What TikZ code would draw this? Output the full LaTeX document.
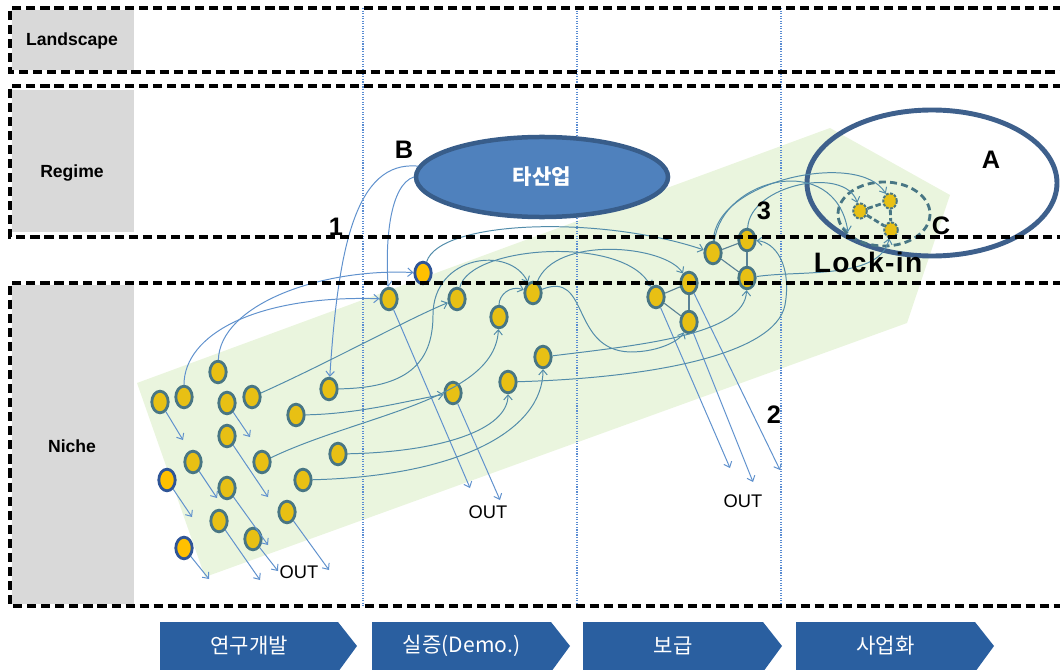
\documentclass[tikz,border=0pt]{standalone}
\usepackage{fontspec}
\setmainfont{Liberation Sans}
\newfontfamily\krfont{Noto Sans CJK KR}
\newfontfamily\wideface[LetterSpace=5]{Liberation Sans}
\usetikzlibrary{shapes.geometric,arrows.meta}
\definecolor{seedfill}{RGB}{232,192,20}
\definecolor{seedrim}{RGB}{72,118,132}
\definecolor{newfill}{RGB}{255,192,0}
\definecolor{newrim}{RGB}{47,85,151}
\definecolor{linkblue}{RGB}{95,145,205}
\definecolor{linkteal}{RGB}{82,140,170}
\definecolor{tiegray}{RGB}{90,130,150}
\definecolor{sprout}{RGB}{234,245,222}
\definecolor{taggray}{RGB}{217,217,217}
\definecolor{industryfill}{RGB}{79,129,189}
\definecolor{industryrim}{RGB}{56,93,138}
\definecolor{lockring}{RGB}{62,96,140}
\definecolor{phaseblue}{RGB}{42,95,160}
\definecolor{stageblue}{RGB}{90,140,210}
\tikzset{
  seed/.style={ellipse, draw=seedrim, fill=seedfill, line width=2pt, minimum width=0.41cm, minimum height=0.54cm, inner sep=0pt},
  newseed/.style={seed, draw=newrim, fill=newfill},
  lockseed/.style={seed, line width=1.4pt, dash pattern=on 2pt off 1pt, minimum width=0.34cm, minimum height=0.38cm},
  link/.style={draw=linkblue, line width=0.7pt, -{Straight Barb[length=3.5pt,width=6pt]}},
  linkteal/.style={link, draw=linkteal},
  tie/.style={draw=tiegray, line width=0.8pt},
  locktie/.style={draw=seedrim, line width=2pt, dash pattern=on 4pt off 2pt},
  layer/.style={black, line width=2.4pt, dash pattern=on 6.5pt off 3.5pt},
  stage/.style={draw=stageblue, line width=0.8pt, densely dotted},
  taglabel/.style={font=\fontsize{12.5}{14}\selectfont\bfseries},
  bigtag/.style={font=\fontsize{18}{20}\selectfont\bfseries},
  outtag/.style={font=\fontsize{13}{15}\selectfont},
  industry/.style={ellipse, draw=industryrim, fill=industryfill, line width=3.2pt, minimum width=6.3cm, minimum height=2.0cm, text=white, font=\krfont\fontsize{15}{17}\selectfont\bfseries},
  phasetext/.style={text=white, font=\krfont\fontsize{15}{17}\selectfont}
}
\newcommand{\phase}[4]{
\fill [phaseblue] (#1,622) -- (#2-19,622) -- (#2,646) -- (#2-19,672) -- (#1,672) -- cycle;
\node [phasetext] (#3) at ({(#1+#2-19)/2},646) {#4};
}

\begin{document}
\begin{tikzpicture}[x=0.025cm, y=-0.025cm]
\clip (0,0) rectangle (1060,670);

% niche band
\fill [sprout] (137,383) -- (830,128) -- (950,195) -- (907,323) -- (205,577) -- cycle;

% level labels
\fill [taggray] (12,10) rectangle (134,70);
\fill [taggray] (12,90) rectangle (134,232);
\fill [taggray] (12,285) rectangle (134,604);
\node [taglabel] (landscape) at (72,41) {Landscape};
\node [taglabel] (regime) at (72,173) {Regime};
\node [taglabel] (niche) at (72,446) {Niche};

% stage borders
\draw [stage] (363,8) -- (363,607);
\draw [stage] (577,8) -- (577,607);
\draw [stage] (781,8) -- (781,607);

% regime rings
\draw [lockring, line width=3.5pt] (932,183) ellipse [x radius=125, y radius=73];
\draw [seedrim, line width=2pt, dash pattern=on 5pt off 3pt] (884,214) ellipse [x radius=46, y radius=32];
\node [industry] (tasan) at (542,177) {타산업};

% seeds: R&D
\node [seed] (r1) at (160,402) {};
\node [seed] (r2) at (184,397) {};
\node [seed] (r3) at (218,372) {};
\node [seed] (r4) at (227,403) {};
\node [seed] (r5) at (252,397) {};
\node [seed] (r6) at (227,436) {};
\node [seed] (r7) at (193,462) {};
\node [seed] (r8) at (262,462) {};
\node [newseed] (r9) at (167,480) {};
\node [seed] (r10) at (227,488) {};
\node [seed] (r11) at (219,521) {};
\node [seed] (r12) at (253,539) {};
\node [seed] (r13) at (287,512) {};
\node [newseed] (r14) at (184,548) {};
\node [seed] (r15) at (296,415) {};
\node [seed] (r16) at (303,480) {};
\node [seed] (r17) at (338,454) {};
\node [seed] (r18) at (329,389) {};

% seeds: demo
\node [newseed] (d1) at (423,273) {};
\node [seed] (d2) at (389,299) {};
\node [seed] (d3) at (457,299) {};
\node [seed] (d4) at (533,293) {};
\node [seed] (d5) at (499,317) {};
\node [seed] (d6) at (543,357) {};
\node [seed] (d7) at (508,382) {};
\node [seed] (d8) at (453,393) {};

% seeds: diffusion
\node [seed] (p1) at (656,297) {};
\node [seed] (p2) at (689,283) {};
\node [seed] (p3) at (689,322) {};
\node [seed] (p4) at (713,253) {};
\node [seed] (p5) at (747,240) {};
\node [seed] (p6) at (747,278) {};

% lock-in cluster
\node [lockseed] (c1) at (860,211) {};
\node [lockseed] (c2) at (890,201) {};
\node [lockseed] (c3) at (891,230) {};

% drop-outs
\coordinate (e1) at (183,440);
\coordinate (e2) at (250,437);
\coordinate (e3) at (217,498);
\coordinate (e4) at (268,497);
\coordinate (e5) at (192,517);
\coordinate (e6) at (268,545);
\coordinate (e7) at (260,580);
\coordinate (e8) at (278,571);
\coordinate (e9) at (209,579);
\coordinate (e10) at (329,570);
\coordinate (e11) at (470,488);
\coordinate (e12) at (500,500);
\coordinate (e13) at (730,468);
\coordinate (e14) at (753,482);
\coordinate (e15) at (780,470);
\coordinate (lockA) at (848,232);

\draw [link] (r1) -- (e1);
\draw [link] (r4) -- (e2);
\draw [link] (r7) -- (e3);
\draw [link] (r6) -- (e4);
\draw [link] (r9) -- (e5);
\draw [link] (r10) -- (e6);
\draw [link] (r11) -- (e7);
\draw [link] (r12) -- (e8);
\draw [link] (r14) -- (e9);
\draw [link] (r13) -- (e10);
\draw [link] (d2) -- (e11);
\draw [link] (d8) -- (e12);
\draw [link] (p1) -- (e13);
\draw [link] (p3) -- (e14);
\draw [link] (p2) -- (e15);

% flows
\draw [link] (r2) .. controls (184,335) and (255,295) .. (d2);
\draw [link] (r3) .. controls (220,305) and (320,268) .. (d1);
\draw [link] (tasan.175) .. controls (355,160) and (338,250) .. (r18);
\draw [link] (tasan.west) .. controls (390,185) and (385,240) .. (d2);
\draw [linkteal] (d1) .. controls (440,220) and (600,215) .. (p4);
\draw [linkteal] (r5) .. controls (330,362) and (410,318) .. (d3);
\draw [linkteal] (r18) .. controls (405,388) and (433,365) .. (433,315) .. controls (433,255) and (510,245) .. (d4);
\draw [linkteal] (r15) .. controls (360,414) and (410,400) .. (d8);
\draw [linkteal] (r8) .. controls (360,415) and (495,400) .. (d5);
\draw [linkteal] (r17) .. controls (440,452) and (508,430) .. (d7);
\draw [linkteal] (r16) .. controls (460,476) and (543,430) .. (d6);
\draw [linkteal] (d5) .. controls (499,295) and (510,285) .. (d4);
\draw [linkteal] (d3) .. controls (470,245) and (625,235) .. (p1);
\draw [linkteal] (d4) .. controls (555,235) and (665,245) .. (p2);
\draw [linkteal] (d4) .. controls (590,270) and (570,350) .. (630,352) .. controls (660,352) and (680,340) .. (p3);
\draw [linkteal] (d6) .. controls (640,345) and (745,335) .. (p6);
\draw [linkteal] (d7) .. controls (650,378) and (775,355) .. (785,305) .. controls (792,265) and (775,242) .. (p5);
\draw [linkteal] (p6) .. controls (800,270) and (880,280) .. (c3);
\draw [linkteal] (p4) .. controls (715,180) and (860,150) .. (c2);
\draw [linkteal] (p5) .. controls (750,185) and (845,165) .. (c1);
\draw [linkteal] (p4) .. controls (722,178) and (835,150) .. (lockA);

% ties
\draw [tie] (p1) -- (p2);
\draw [tie] (p1) -- (p3);
\draw [tie] (p2) -- (p3);
\draw [tie] (p4) -- (p5);
\draw [tie] (p4) -- (p6);
\draw [tie] (p5) -- (p6);
\draw [locktie] (c1) -- (c2);
\draw [locktie] (c1) -- (c3);
\draw [locktie] (c2) -- (c3);

% levels
\draw [layer] (1062,8) -- (10,8) -- (10,72) -- (1062,72);
\draw [layer] (1062,86) -- (10,86) -- (10,237) -- (1062,237);
\draw [layer] (1062,283) -- (10,283) -- (10,606) -- (1062,606);

% labels
\node [bigtag] (labB) at (404,150) {B};
\node [bigtag] (lab1) at (336,227) {1};
\node [bigtag] (lab2) at (774,415) {2};
\node [bigtag] (lab3) at (764,211) {3};
\node [bigtag] (labA) at (991,160) {A};
\node [bigtag] (labC) at (941,226) {C};
\node [font=\wideface\fontsize{20}{22}\selectfont\bfseries] (lockin) at (868,262) {Lock-in};
\node [outtag] (out1) at (299,572) {OUT};
\node [outtag] (out2) at (488,512) {OUT};
\node [outtag] (out3) at (743,501) {OUT};

% phases
\phase{160}{357}{rnd}{연구개발}
\phase{372}{570}{demo}{실증(Demo.)}
\phase{583}{782}{diffuse}{보급}
\phase{796}{994}{business}{사업화}

\end{tikzpicture}
\end{document}
